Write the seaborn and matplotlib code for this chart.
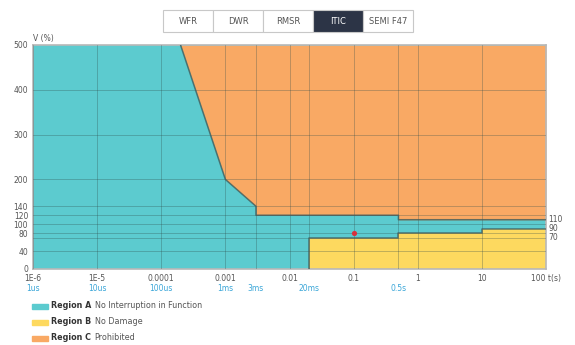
import seaborn as sns
import matplotlib.pyplot as plt
from matplotlib.patches import Rectangle

# ITIC curve, time in seconds, voltage in %
upper_t = [2e-4, 1e-3, 3e-3, 3e-3, 0.5, 0.5, 100]
upper_v = [500, 200, 140, 120, 120, 110, 110]
lower_t = [0.02, 0.02, 0.5, 0.5, 10, 10, 100]
lower_v = [0, 70, 70, 80, 80, 90, 90]
event_t = [0.1]
event_v = [80]

x_ticks = [1e-6, 1e-5, 1e-4, 1e-3, 1e-2, 0.1, 1, 10, 100]
x_labels = ['1E-6', '1E-5', '0.0001', '0.001', '0.01', '0.1', '1', '10', '100 t(s)']
x_extra = [3e-3, 0.02, 0.5]
time_t = [1e-6, 1e-5, 1e-4, 1e-3, 3e-3, 0.02, 0.5]
time_labels = ['1us', '10us', '100us', '1ms', '3ms', '20ms', '0.5s']
y_ticks = [0, 40, 80, 100, 120, 140, 200, 300, 400, 500]
y_extra = [70]
limit_labels = [110, 90, 70]
tabs = ['WFR', 'DWR', 'RMSR', 'ITIC', 'SEMI F47']
active_tab = 'ITIC'
region_names = ['Region A', 'Region B', 'Region C']
region_desc = ['No Interruption in Function', 'No Damage', 'Prohibited']

TEAL = '#5ccbcf'
YELLOW = '#fdd95f'
ORANGE = '#f9a964'
EDGE = '#3f5c5c'
GREY = '#555555'
BLUE = '#3aa6d8'
W, H = 575, 345

sns.set_theme(style='white')
plt.rcParams['font.family'] = ['DejaVu Sans']

fig = plt.figure(figsize=(W / 100, H / 100), dpi=100)
fig.patch.set_facecolor('white')


def fx(px):
    return px / W


def fy(py):
    return 1 - py / H


ax = fig.add_axes([fx(33), fy(269), fx(513), 224 / H])
ax.set_facecolor(TEAL)
ax.set_xscale('log')

# regions
ax.fill_between(upper_t, upper_v, 500, color=ORANGE, lw=0, zorder=1)
ax.fill_between(lower_t, 0, lower_v, color=YELLOW, lw=0, zorder=1)
sns.lineplot(x=upper_t, y=upper_v, estimator=None, sort=False, color=EDGE,
             lw=1.1, alpha=0.8, ax=ax, zorder=4)
sns.lineplot(x=lower_t, y=lower_v, estimator=None, sort=False, color=EDGE,
             lw=1.1, alpha=0.8, ax=ax, zorder=4)
sns.scatterplot(x=event_t, y=event_v, color='#d8323c', s=14, linewidth=0,
                ax=ax, zorder=5)

# grid
for t in x_ticks + x_extra:
    ax.axvline(t, color='#2e4a4a', lw=0.7, alpha=0.3, zorder=3)
for v in y_ticks[1:-1] + y_extra:
    ax.axhline(v, color='#2e4a4a', lw=0.7, alpha=0.3, zorder=3)

ax.set_xlim(1e-6, 100)
ax.set_ylim(0, 500)
ax.set_xticks(x_ticks, x_labels)
ax.set_xticks([], minor=True)
ax.set_yticks(y_ticks)
ax.tick_params(length=0, labelsize=5.5, labelcolor=GREY, pad=3.5)
for s in ax.spines.values():
    s.set_color('#b8b8b8')
    s.set_linewidth(1.2)

for t, lab in zip(time_t, time_labels):
    ax.text(t, -0.085, lab, transform=ax.get_xaxis_transform(), ha='center',
            va='center', fontsize=5.5, color=BLUE)
for v in limit_labels:
    ax.text(1.004, v, str(v), transform=ax.get_yaxis_transform(), ha='left',
            va='center', fontsize=5.5, color=GREY)
ax.text(0, 1.03, 'V (%)', transform=ax.transAxes, ha='left', va='center',
        fontsize=5.5, color=GREY)

# legend
colors = [TEAL, YELLOW, ORANGE]
for i, (name, desc) in enumerate(zip(region_names, region_desc)):
    yc = 306 + 16 * i
    fig.patches.append(Rectangle((fx(32), fy(yc + 2.5)), fx(16), 5 / H,
                                 transform=fig.transFigure, color=colors[i]))
    t1 = fig.text(fx(51), fy(yc), name, fontsize=5.8, fontweight='bold',
                  color='#333333', va='center')
    ax.annotate(desc, xy=(1, 0.5), xycoords=t1, xytext=(2.5, 0),
                textcoords='offset points', va='center', ha='left',
                fontsize=5.8, color=GREY, annotation_clip=False)

# tab bar
x0 = 163
for name in tabs:
    active = name == active_tab
    fig.patches.append(Rectangle((fx(x0), fy(32)), fx(50), 22 / H,
                                 transform=fig.transFigure,
                                 facecolor='#2c3446' if active else 'white',
                                 edgecolor='#c8c8c8', lw=0.8))
    fig.text(fx(x0 + 25), fy(21), name, ha='center', va='center', fontsize=6,
             color='white' if active else GREY)
    x0 += 50

fig.savefig('out.png', dpi=100)
